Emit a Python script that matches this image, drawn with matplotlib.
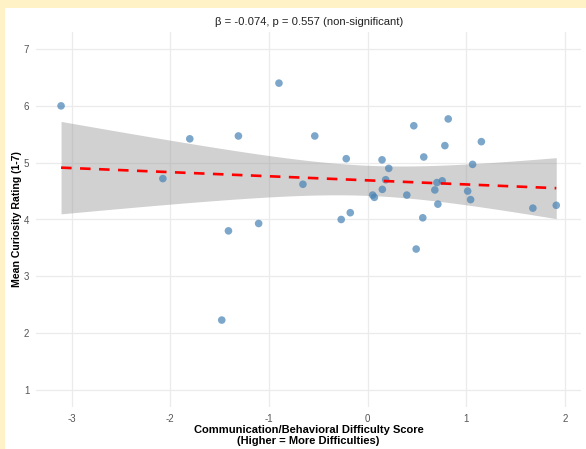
import numpy as np
import matplotlib
matplotlib.use("Agg")
import matplotlib.pyplot as plt
from matplotlib.patches import Rectangle

plt.rcParams['font.family'] = ['Liberation Sans', 'DejaVu Sans']
plt.rcParams['axes.unicode_minus'] = False

# Communication/behavioral difficulty score and mean curiosity rating per participant
difficulty = [-3.108, -0.899, -1.803, -1.310, -2.076, -0.656, -1.411, -1.105, -1.479,
              -0.536, -0.217, -0.268, -0.176, 0.468, 0.817, 0.783, 1.153, 0.146,
              0.569, 0.214, 0.183, 0.149, 0.051, 0.068, 0.397, 0.702, 0.756,
              0.681, 0.712, 0.559, 0.492, 1.064, 1.014, 1.044, 1.675, 1.912]
curiosity = [6.00, 6.40, 5.42, 5.47, 4.72, 4.62, 3.80, 3.93, 2.23,
             5.47, 5.07, 4.00, 4.12, 5.65, 5.77, 5.30, 5.37, 5.05,
             5.10, 4.90, 4.70, 4.53, 4.43, 4.39, 4.43, 4.65, 4.68,
             4.52, 4.27, 4.03, 3.48, 4.97, 4.50, 4.35, 4.20, 4.25]

title_text = "β = -0.074, p = 0.557 (non-significant)"
x_label = "Communication/Behavioral Difficulty Score\n(Higher = More Difficulties)"
y_label = "Mean Curiosity Rating (1-7)"
x_ticks = [-3, -2, -1, 0, 1, 2]
y_ticks = [1, 2, 3, 4, 5, 6, 7]

x = np.array(difficulty)
y = np.array(curiosity)

# Ordinary least squares fit with 95% confidence band for the mean
n = len(x)
slope, intercept = np.polyfit(x, y, 1)
resid = y - (intercept + slope * x)
s = np.sqrt(np.sum(resid ** 2) / (n - 2))
t_crit = 2.032  # two-sided 95%, df = n - 2
xs = np.linspace(x.min(), x.max(), 100)
fit = intercept + slope * xs
se = s * np.sqrt(1.0 / n + (xs - x.mean()) ** 2 / np.sum((x - x.mean()) ** 2))

fig = plt.figure(figsize=(5.86, 4.49), dpi=100)
fig.patch.set_facecolor('#FFF2C6')
fig.patches.append(Rectangle((5 / 586, 0), 1, 1 - 8 / 449, transform=fig.transFigure,
                             facecolor='white', edgecolor='none', zorder=-10))

ax = fig.add_axes([36.3 / 586, 42 / 449, (581 - 36.3) / 586, (407 - 32) / 449])
ax.set_facecolor('white')

ax.scatter(x, y, s=30, color='steelblue', alpha=0.7, edgecolors='none', zorder=3)
ax.fill_between(xs, fit - t_crit * se, fit + t_crit * se, color='#999999', alpha=0.45,
                linewidth=0, zorder=2)
ax.plot(xs, fit, color='red', linewidth=1.9, linestyle=(0, (4, 3.2)), zorder=4)

xr = x.max() - x.min()
ax.set_xlim(x.min() - 0.05 * xr, x.max() + 0.05 * xr)
ax.set_ylim(0.7, 7.3)
ax.set_xticks(x_ticks)
ax.set_yticks(y_ticks)
ax.tick_params(length=0, labelsize=7, labelcolor='#555555')
ax.tick_params(axis='x', pad=5)
ax.tick_params(axis='y', pad=5)
ax.grid(True, color='#EBEBEB', linewidth=0.9)
ax.set_axisbelow(True)
for sp in ax.spines.values():
    sp.set_visible(False)

ax.set_title(title_text, fontsize=8.1, color='#222222', pad=5)
ax.set_xlabel(x_label, fontsize=8.0, fontweight='bold', labelpad=1, linespacing=1.12)
ax.set_ylabel(y_label, fontsize=7.6, fontweight='bold', va='center')
ax.yaxis.set_label_coords(-0.036, 0.5)

fig.savefig('out.png', dpi=100, facecolor=fig.get_facecolor())
